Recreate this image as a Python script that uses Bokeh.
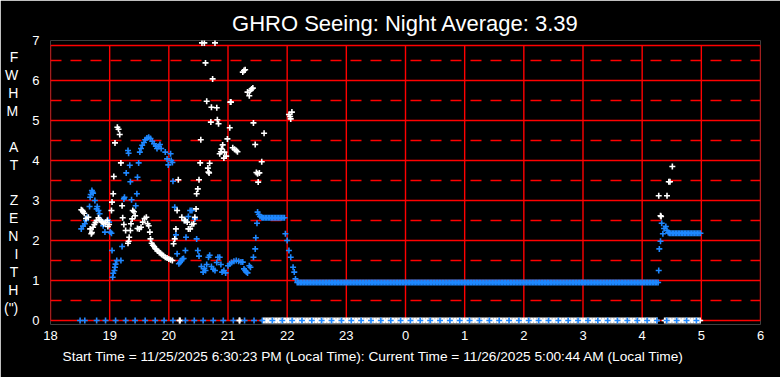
import numpy as np
from bokeh.plotting import figure
from bokeh.models import Range1d, FixedTicker, Title
from bokeh.embed import file_html
from bokeh.resources import INLINE

TITLE = "GHRO Seeing: Night Average: 3.39"
FOOTER = ("Start Time = 11/25/2025 6:30:23 PM (Local Time): "
          "Current Time = 11/26/2025 5:00:44 AM (Local Time)")
Y_LABEL = ["F", "W", "H", "M", " ", "A", "T", " ", "Z", "E", "N", "I", "T", "H", "(\")"]
X_TICKS = [18, 19, 20, 21, 22, 23, 24, 25, 26, 27, 28, 29, 30]
X_TICK_LABELS = ["18", "19", "20", "21", "22", "23", "0", "1", "2", "3", "4", "5", "6"]
Y_TICKS = [0, 1, 2, 3, 4, 5, 6, 7]
Y_HALF = [0.5, 1.5, 2.5, 3.5, 4.5, 5.5, 6.5]
Y_TOP = 6.875

# blue measurements (hour of night, FWHM arcsec)
blue_t = [18.52, 18.55, 18.58, 18.60, 18.62, 18.66, 18.67, 18.68, 18.70, 18.71,
          18.72, 18.75, 18.78, 18.79, 18.81, 18.83, 18.86, 18.89, 18.92, 18.97,
          18.99, 19.01, 19.03, 19.04, 19.05, 19.06, 19.08, 19.09, 19.10, 19.12,
          19.19, 19.21, 19.24, 19.25, 19.28, 19.31, 19.32, 19.34, 19.35, 19.37,
          19.44, 19.46, 19.47, 19.49, 19.51, 19.53, 19.55, 19.58, 19.60, 19.63,
          19.66, 19.69, 19.72, 19.75, 19.78, 19.80, 19.83, 19.85, 19.87, 19.94,
          19.97, 19.99, 20.03, 20.04, 20.06, 20.07, 20.10, 20.12, 20.14, 20.17,
          20.19, 20.21, 20.23, 20.25, 20.28, 20.28, 20.29, 20.33, 20.36, 20.39,
          20.44, 20.47, 20.49, 20.51, 20.55, 20.58, 20.60, 20.62, 20.64, 20.67,
          20.69, 20.72, 20.75, 20.78, 20.81, 20.83, 20.86, 20.88, 20.90, 20.93,
          20.96, 21.00, 21.03, 21.06, 21.10, 21.14, 21.18, 21.22, 21.25, 21.27,
          21.29, 21.31, 21.33, 21.36, 21.38, 21.43, 21.46, 21.47, 21.49, 21.50,
          21.52, 21.54, 21.57,
          21.97, 22.00, 22.03, 22.06, 22.10, 22.12, 22.14,
          28.28, 28.29, 28.31, 28.33, 28.35, 28.37, 28.40, 28.42, 28.44]
blue_v = [2.29, 2.36, 2.42, 2.50, 2.58, 2.85, 3.08, 3.15, 3.25, 3.21,
          3.18, 3.00, 2.79, 2.85, 2.75, 2.67, 2.50, 2.37, 2.21, 2.52,
          2.46, 2.21, 2.18, 1.75, 1.08, 1.18, 1.25, 1.33, 1.41, 1.50,
          1.50, 1.85, 3.04, 3.08, 3.69, 4.25, 4.18, 3.88, 3.47, 3.02,
          2.87, 3.17, 3.58, 3.94, 4.21, 4.30, 4.38, 4.45, 4.52, 4.56,
          4.58, 4.55, 4.48, 4.42, 4.36, 4.30, 4.35, 4.40, 4.30, 4.21,
          4.04, 3.89, 4.17, 4.00, 3.95, 3.48, 2.83, 2.14, 1.67, 1.42,
          1.45, 1.50, 1.54, 1.55, 1.75, 2.50, 2.08, 2.60, 2.75, 2.75,
          2.54, 2.04, 1.75, 1.61, 1.35, 1.21, 1.30, 1.25, 1.40, 1.58,
          1.63, 1.35, 1.28, 1.25, 1.45, 1.58, 1.58, 1.40, 1.21, 1.25,
          1.19, 1.37, 1.42, 1.45, 1.48, 1.50, 1.48, 1.46, 1.46, 1.29,
          1.25, 1.21, 1.19, 1.37, 1.33, 1.58, 1.79, 2.07, 2.43, 2.71,
          2.65, 2.60, 2.58,
          2.17, 2.00, 1.75, 1.58, 1.33, 1.21, 1.04,
          1.25, 1.79, 1.98, 2.43, 2.17, 2.30, 2.35, 2.25, 2.20]

# white measurements
white_t = [18.52, 18.54, 18.55, 18.57, 18.60, 18.64, 18.67, 18.69, 18.70, 18.72,
           18.74, 18.76, 18.78, 18.81, 18.83, 18.86, 18.88, 18.90, 18.93, 18.96,
           18.97, 18.99, 19.03, 19.04, 19.06, 19.07, 19.09, 19.13, 19.15, 19.17,
           19.19, 19.21, 19.22, 19.24, 19.27, 19.31, 19.32, 19.33, 19.35, 19.36,
           19.38, 19.39, 19.41, 19.43, 19.47, 19.50, 19.53, 19.56, 19.59, 19.62,
           19.64, 19.66, 19.68, 19.69, 19.71, 19.73, 19.75, 19.77, 19.79, 19.81,
           19.84, 19.86, 19.88, 19.91, 19.94, 19.97, 20.00, 20.03, 20.06, 20.08,
           20.10, 20.12, 20.14, 20.16, 20.22, 20.26, 20.28, 20.31, 20.33, 20.36,
           20.39, 20.42, 20.44, 20.46, 20.47, 20.49, 20.51, 20.53, 20.54, 20.56,
           20.60, 20.62, 20.64, 20.66, 20.67, 20.68, 20.69, 20.71, 20.72, 20.74,
           20.78, 20.81, 20.82, 20.84, 20.86, 20.88, 20.89, 20.91, 20.93, 20.94,
           20.97, 20.99, 21.03, 21.04, 21.05, 21.08, 21.11, 21.14, 21.16, 21.25,
           21.27, 21.29, 21.33, 21.36, 21.38, 21.40, 21.42, 21.43, 21.46, 21.48,
           21.50, 21.51, 21.53, 21.57, 21.61, 22.03, 22.05, 22.06, 22.08,
           28.28, 28.31, 28.32, 28.42, 28.45, 28.47, 28.51]
white_v = [2.77, 2.75, 2.72, 2.68, 2.55, 2.58, 2.29, 2.17, 2.20, 2.33,
           2.40, 2.45, 2.50, 2.57, 2.52, 2.48, 2.46, 2.42, 2.45, 2.50,
           2.35, 2.40, 2.75, 2.96, 3.17, 3.60, 4.44, 4.83, 4.78, 4.65,
           3.94, 2.87, 2.57, 2.40, 2.25, 1.93, 1.98, 2.08, 2.25, 2.42,
           2.54, 2.75, 2.72, 2.62, 2.30, 2.29, 2.33, 2.46, 2.55, 2.58,
           2.42, 2.37, 2.21, 2.04, 1.93, 1.88, 1.85, 1.80, 1.78, 1.74,
           1.70, 1.68, 1.65, 1.62, 1.58, 1.56, 1.54, 1.52, 1.50, 1.92,
           2.04, 2.29, 2.75, 3.52, 2.58, 2.50, 2.50, 2.46, 2.29, 2.29,
           2.40, 2.42, 2.58, 2.79, 3.17, 3.29, 3.52, 3.94, 4.52, 6.94,
           6.94, 6.44, 5.48, 3.81, 3.71, 3.69, 3.93, 4.96, 5.33, 6.04,
           6.94, 5.32, 5.02, 4.92, 4.17, 4.22, 4.29, 4.39, 4.06, 4.21,
           4.11, 4.54, 4.82, 5.46, 5.46, 4.32, 4.28, 4.25, 4.22, 6.21,
           6.25, 6.27, 5.71, 5.62, 5.75, 5.79, 5.81, 4.94, 4.40, 3.70,
           3.67, 3.46, 3.69, 3.97, 4.68, 5.15, 5.10, 5.04, 5.21,
           3.12, 2.62, 2.60, 3.12, 3.47, 3.47, 3.85]

# points logged at zero (no measurement)
blue_zero_t = [18.50, 18.58, 18.78, 18.93, 19.10, 19.27, 19.43, 19.60, 19.77, 19.92,
               20.07, 20.28, 20.43, 20.58, 20.75, 20.92, 21.09, 21.28, 21.44, 21.58]
white_zero_t = [20.18, 20.19, 21.19, 21.20]

# densely sampled stretches: (start hour, end hour, level)
blue_runs = [(21.58, 21.97, 2.57), (22.17, 28.27, 0.95), (28.46, 29.00, 2.18)]
white_zero_runs = [(21.60, 28.27, 0.0), (28.38, 29.00, 0.0)]
blue_zero_run = (21.75, 29.00, 0.0)   # one zero point every 10 minutes
DENSE_STEP = 0.025

BLUE = "#1E88FF"
RED = "#FF0000"
FONT = "Liberation Sans"


def expand(runs, step):
    ts, vs = [], []
    for a, b, lvl in runs:
        t = np.arange(a, b + 1e-9, step)
        ts.extend(t.tolist())
        vs.extend([lvl] * len(t))
    return ts, vs


p = figure(width=780, height=377, output_backend="svg", toolbar_location=None,
           x_range=Range1d(18, 30), y_range=Range1d(-0.1, 7),
           min_border_left=40, min_border_right=20, min_border_top=40, min_border_bottom=53,
           background_fill_color="black", border_fill_color="black")
p.outline_line_color = None

# title and footer
p.title.text = TITLE
p.title.align = "center"
p.title.offset = 5
p.title.standoff = 10
p.title.text_color = "white"
p.title.text_font = FONT
p.title.text_font_style = "normal"
p.title.text_font_size = "22px"
p.add_layout(Title(text=FOOTER, align="left", offset=12, standoff=8,
                   text_color="white", text_font=FONT, text_font_style="normal",
                   text_font_size="13.7px"), "below")

# grid
p.xgrid.visible = False
p.ygrid.ticker = FixedTicker(ticks=[1, 2, 3, 4, 5, 6], minor_ticks=Y_HALF)
p.ygrid.grid_line_color = RED
p.ygrid.grid_line_width = 1.4
p.ygrid.minor_grid_line_color = RED
p.ygrid.minor_grid_line_width = 1.4
p.ygrid.minor_grid_line_dash = "11 9"

vx = X_TICKS
p.segment(x0=vx, x1=vx, y0=[0] * len(vx), y1=[Y_TOP] * len(vx), line_color=RED, line_width=1.4)
p.segment(x0=[18, 18], x1=[30, 30], y0=[0, Y_TOP], y1=[0, Y_TOP], line_color=RED, line_width=1.4)

# axes
for ax in (p.xaxis[0], p.yaxis[0]):
    ax.axis_line_color = None
    ax.major_tick_line_color = None
    ax.minor_tick_line_color = None
    ax.major_label_text_color = "white"
    ax.major_label_text_font = FONT
    ax.major_label_text_font_size = "13px"
p.xaxis.ticker = FixedTicker(ticks=X_TICKS)
p.xaxis.major_label_overrides = {t: l for t, l in zip(X_TICKS, X_TICK_LABELS)}
p.xaxis.major_label_standoff = 0
p.yaxis.ticker = FixedTicker(ticks=Y_TICKS)
p.yaxis.major_label_standoff = 5
p.yaxis.axis_label = "\n".join(Y_LABEL)
p.yaxis.axis_label_orientation = "horizontal"
p.yaxis.axis_label_text_color = "white"
p.yaxis.axis_label_text_font = FONT
p.yaxis.axis_label_text_font_style = "normal"
p.yaxis.axis_label_text_font_size = "14px"
p.yaxis.axis_label_text_line_height = 1.12
p.yaxis.axis_label_text_align = "center"
p.yaxis.axis_label_standoff = 11

# data
wz_t, wz_v = expand(white_zero_runs, DENSE_STEP)
p.scatter(wz_t, wz_v, marker="cross", size=6, line_color="white", line_width=1.6)
p.scatter(white_zero_t, [0] * len(white_zero_t), marker="cross", size=6, line_color="white", line_width=1.6)
bz_t = blue_zero_t + np.arange(blue_zero_run[0], blue_zero_run[1] + 1e-9, 1 / 6).tolist()
p.scatter(bz_t, [0] * len(bz_t), marker="cross", size=6, line_color=BLUE, line_width=1.6)

br_t, br_v = expand(blue_runs, DENSE_STEP)
p.scatter(br_t, br_v, marker="cross", size=6, line_color=BLUE, line_width=1.6)
p.scatter(blue_t, blue_v, marker="cross", size=6, line_color=BLUE, line_width=1.6)
p.scatter(white_t, white_v, marker="cross", size=6, line_color="white", line_width=1.6)

open("out.html", "w").write(file_html(p, INLINE))
